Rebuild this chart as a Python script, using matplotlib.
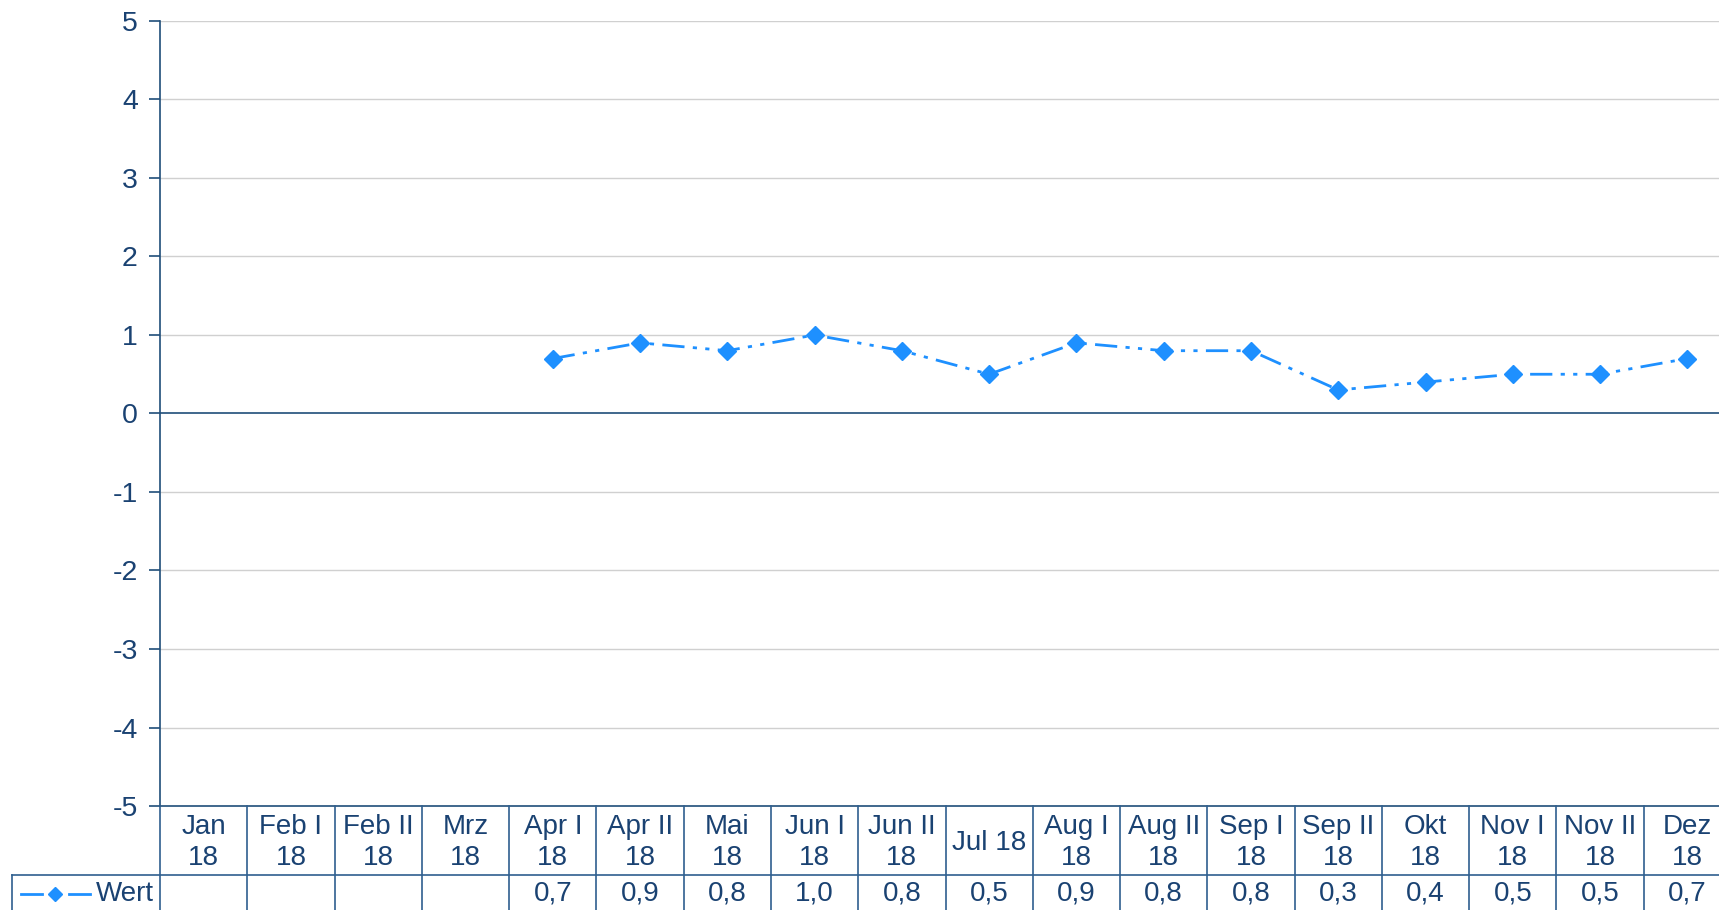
import matplotlib
matplotlib.use("Agg")
import matplotlib.pyplot as plt
from matplotlib.transforms import blended_transform_factory
from matplotlib.lines import Line2D
import numpy as np

plt.rcParams['font.family'] = ['Liberation Sans', 'DejaVu Sans']

categories = ["Jan\n18", "Feb I\n18", "Feb II\n18", "Mrz\n18", "Apr I\n18", "Apr II\n18",
              "Mai\n18", "Jun I\n18", "Jun II\n18", "Jul 18", "Aug I\n18", "Aug II\n18",
              "Sep I\n18", "Sep II\n18", "Okt\n18", "Nov I\n18", "Nov II\n18", "Dez\n18"]
values = [None, None, None, None, 0.7, 0.9, 0.8, 1.0, 0.8, 0.5, 0.9, 0.8,
          0.8, 0.3, 0.4, 0.5, 0.5, 0.7]
series_name = "Wert"
yticks = [-5, -4, -3, -2, -1, 0, 1, 2, 3, 4, 5]

W, H = 1719, 910
text_c = '#1A4272'
axis_c = '#1F4E79'
line_c = '#1E90FF'
grid_c = '#D0D0D0'
fs = 20

fig = plt.figure(figsize=(W / 100, H / 100), dpi=100)
# the plot area runs slightly past the right edge of the image, as in the reference
left_px, right_px, top_px, bot_px = 160, 1731, 21, 806
ax = fig.add_axes([left_px / W, 1 - bot_px / H, (right_px - left_px) / W, (bot_px - top_px) / H])

n = len(categories)
x = np.arange(n)
y = np.array([np.nan if v is None else v for v in values], dtype=float)

ax.set_xlim(-0.5, n - 0.5)
ax.set_ylim(-5, 5)
ax.set_yticks(yticks)
ax.set_yticklabels([str(t) for t in yticks])
ax.tick_params(axis='y', colors=axis_c, labelcolor=text_c, labelsize=20.5, length=8, width=1.2, pad=8)
ax.set_xticks([])
for s in ['top', 'right']:
    ax.spines[s].set_visible(False)
ax.spines['left'].set_color(axis_c)
ax.spines['left'].set_linewidth(1.2)
ax.spines['bottom'].set_color(axis_c)
ax.spines['bottom'].set_linewidth(1.2)

for t in yticks:
    if t == 0:
        ax.axhline(0, color=axis_c, lw=1.2, zorder=2)
    elif t != -5:
        ax.axhline(t, color=grid_c, lw=1.0, zorder=1)

dash = (8, 3, 1.5, 3, 1.5, 3)
ax.plot(x, y, color=line_c, lw=2, linestyle=(0, dash), marker='D', markersize=9.5,
        markerfacecolor=line_c, markeredgecolor=line_c, zorder=3, clip_on=False)

# table below the axis
tr = blended_transform_factory(ax.transData, fig.transFigure)
def fy(px):
    return 1 - px / H

hdr_top, hdr_bot, data_bot = 806, 875, 910
cell_c = '#2F5F8F'
fig.add_artist(Line2D([12 / W, 1.0], [fy(hdr_bot), fy(hdr_bot)], transform=fig.transFigure,
                      color=cell_c, lw=1.2))
for i in range(n + 1):
    xb = i - 0.5
    fig.add_artist(Line2D([xb, xb], [fy(hdr_top), fy(data_bot)], transform=tr,
                          color=cell_c, lw=1.2, clip_on=False))
fig.add_artist(Line2D([12 / W, 12 / W], [fy(hdr_bot), fy(data_bot)], transform=fig.transFigure,
                      color=cell_c, lw=1.2))

for i, cat in enumerate(categories):
    fig.text(i, fy((hdr_top + hdr_bot) / 2 + 2), cat, transform=tr, ha='center', va='center',
             fontsize=fs, color=text_c, linespacing=1.22)
    if values[i] is not None:
        fig.text(i, fy(894), f"{values[i]:.1f}".replace('.', ','), transform=tr,
                 ha='center', va='center', fontsize=fs, color=text_c)

# legend key
ly = fy(894)
fig.add_artist(Line2D([21 / W, 42 / W], [ly, ly], transform=fig.transFigure, color=line_c, lw=2))
fig.add_artist(Line2D([69 / W, 90 / W], [ly, ly], transform=fig.transFigure, color=line_c, lw=2))
fig.add_artist(Line2D([55 / W], [ly], transform=fig.transFigure, color=line_c, marker='D',
                      markersize=7.5, lw=0))
fig.text(96 / W, ly, series_name, ha='left', va='center', fontsize=fs, color=text_c)

fig.savefig("out.png", dpi=100)
